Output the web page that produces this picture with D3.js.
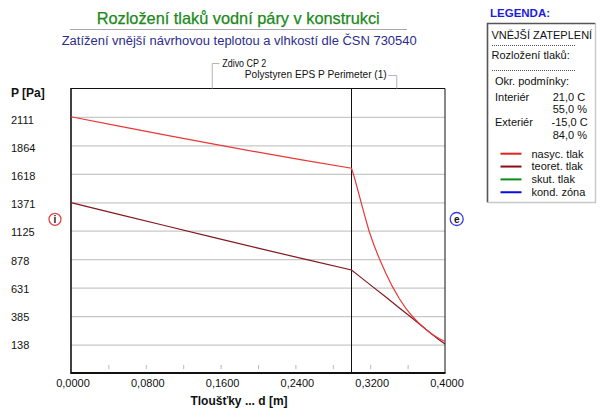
<!DOCTYPE html>
<html><head><meta charset="utf-8">
<script src="https://cdn.jsdelivr.net/npm/d3@7"></script>
<style>
html,body{margin:0;padding:0;background:#fff;}
svg{display:block;font-family:"Liberation Sans",Arial,sans-serif;}
</style></head>
<body>
<svg id="c" width="604" height="418"></svg>
<script>
// ---------- data ----------
const titleText = "Rozložení tlaků vodní páry v konstrukci";
const subtitleText = "Zatížení vnější návrhovou teplotou a vlhkostí dle ČSN 730540";
const layerNames = ["Zdivo CP 2", "Polystyren EPS P Perimeter (1)"];
const layerThick = [0.30, 0.10];
const xTicks = [0, 0.08, 0.16, 0.24, 0.32, 0.40];
const xMinor = [0.04, 0.08, 0.12, 0.16, 0.20, 0.24, 0.28, 0.32, 0.36];
const yRange = [-108.6, 2357.6];
const yTicks = [138, 385, 631, 878, 1125, 1371, 1618, 1864, 2111];
// saturated pressure (nasyc. tlak)
const dSat = [0, 0.05, 0.10, 0.15, 0.20, 0.25, 0.30, 0.303, 0.3083, 0.3136, 0.319, 0.3243, 0.3296, 0.3367, 0.3438, 0.3509, 0.3581, 0.3651, 0.3723, 0.3794, 0.3865, 0.3936, 0.40];
const pSat = [2113, 2033, 1956, 1880, 1806, 1735, 1666, 1590, 1430, 1270, 1116, 995, 886, 756, 640, 539, 452, 383, 322, 272, 225, 190, 165];
// theoretical partial pressure (teoret. tlak)
const dTeor = [0, 0.05, 0.10, 0.15, 0.20, 0.25, 0.30, 0.3083, 0.3225, 0.3367, 0.3509, 0.3651, 0.3794, 0.3936, 0.40];
const pTeor = [1368, 1269, 1170, 1072, 974, 878, 784, 731, 640, 550, 457, 366, 270, 180, 142];
const legendNames = ["nasyc. tlak", "teoret. tlak", "skut. tlak", "kond. zóna"];
const legendColors = ["#e32222", "#8c0c14", "#0c8a1a", "#0a0ae6"];
const condLabels = ["Interiér", "Exteriér"];
const condTemp = ["21,0 C", "-15,0 C"];
const condHum = ["55,0 %", "84,0 %"];

// ---------- setup ----------
const svg = d3.select("#c");
const L = 71, R = 445, T = 88.5, B = 373;
const x = d3.scaleLinear().domain([0, 0.4]).range([L, R]);
const y = d3.scaleLinear().domain(yRange).range([B, T]);
const FONT = "\"Liberation Sans\",Arial,sans-serif";

function fit(sel, w) { sel.attr("textLength", w).attr("lengthAdjust", "spacingAndGlyphs"); return sel; }

// title
fit(svg.append("text").attr("x", 96.7).attr("y", 24).attr("font-size", 16.5)
  .attr("fill", "#1b8a1b").attr("stroke", "#1b8a1b").attr("stroke-width", 0.25).text(titleText), 283);
svg.append("line").attr("x1", 70).attr("x2", 407).attr("y1", 29.5).attr("y2", 29.5)
  .attr("stroke", "#a8a8a8").attr("stroke-width", 1);
fit(svg.append("text").attr("x", 61.7).attr("y", 45).attr("font-size", 12.5)
  .attr("fill", "#2c2c8e").text(subtitleText), 355);

// grid (y axis)
const gy = svg.append("g").attr("transform", `translate(${L},0)`)
  .call(d3.axisLeft(y).tickValues(yTicks).tickSize(-(R - L)).tickFormat(""));
gy.select(".domain").remove();
gy.selectAll(".tick line").attr("stroke", "#c8c8c8").attr("stroke-width", 1.2);

// y labels
svg.append("g").selectAll("text").data(yTicks).join("text")
  .attr("x", 11)
  .attr("y", d => y(d) + 4.5 + 2.5 * (d - 138) / (2111 - 138))
  .attr("font-size", 11).attr("fill", "#111")
  .text(d => d);
svg.append("text").attr("x", 11).attr("y", 96.5).attr("font-size", 12)
  .attr("font-weight", "bold").attr("fill", "#111").text("P [Pa]");

// minor ticks
const gm = svg.append("g").attr("transform", `translate(0,${B - 8})`)
  .call(d3.axisBottom(x).tickValues(xMinor).tickSize(4).tickFormat(""));
gm.select(".domain").remove();
gm.selectAll(".tick line").attr("stroke", "#b8b8b8");

// x axis labels
const gx = svg.append("g").attr("transform", `translate(0,${B})`)
  .call(d3.axisBottom(x).tickValues(xTicks).tickSize(0)
    .tickFormat(d => d.toFixed(4).replace(".", ",")));
gx.select(".domain").remove();
gx.selectAll(".tick text").attr("y", 14).attr("dy", 0).attr("dx", 1.5)
  .attr("font-size", 11).attr("font-family", FONT).attr("fill", "#111");
svg.append("text").attr("x", 239).attr("y", 405).attr("text-anchor", "middle")
  .attr("font-size", 12).attr("font-weight", "bold").attr("fill", "#111")
  .text("Tloušťky ... d [m]");

// frame
svg.append("line").attr("x1", L).attr("x2", R).attr("y1", T).attr("y2", T).attr("stroke", "#111");
svg.append("line").attr("x1", R).attr("x2", R).attr("y1", T).attr("y2", B).attr("stroke", "#111");
svg.append("line").attr("x1", L).attr("x2", L).attr("y1", T - 0.5).attr("y2", B + 1).attr("stroke", "#111").attr("stroke-width", 1.6);
svg.append("line").attr("x1", L).attr("x2", R + 0.5).attr("y1", B).attr("y2", B).attr("stroke", "#111").attr("stroke-width", 1.8);

// layer boundaries and labels
let acc = 0;
const bounds = layerThick.map(t => { const s = acc; acc += t; return [s, acc]; });
bounds.slice(0, -1).forEach(b => {
  svg.append("line").attr("x1", x(b[1])).attr("x2", x(b[1])).attr("y1", T).attr("y2", B)
    .attr("stroke", "#111");
});
{
  const cx = x((bounds[0][0] + bounds[0][1]) / 2) + 1;
  svg.append("path").attr("d", `M${cx},${T} V63.5 H${cx + 7}`).attr("fill", "none").attr("stroke", "#b4b4b4");
  fit(svg.append("text").attr("x", cx + 10).attr("y", 67.3).attr("font-size", 11).attr("fill", "#111").text(layerNames[0]), 44);
  const cx2 = x((bounds[1][0] + bounds[1][1]) / 2) - 1.5;
  svg.append("path").attr("d", `M${cx2 - 8.5},75.5 H${cx2} V${T}`).attr("fill", "none").attr("stroke", "#b4b4b4");
  fit(svg.append("text").attr("x", cx2 - 10).attr("y", 78.3).attr("text-anchor", "end").attr("font-size", 11).attr("fill", "#111").text(layerNames[1]), 142);
}

// curves
const line = d3.line().x(d => x(d[0])).y(d => y(d[1]));
svg.append("path").datum(dTeor.map((d, i) => [d, pTeor[i]])).attr("d", line)
  .attr("fill", "none").attr("stroke", "#841820").attr("stroke-width", 1.2);
svg.append("path").datum(dSat.map((d, i) => [d, pSat[i]])).attr("d", line)
  .attr("fill", "none").attr("stroke", "#e83838").attr("stroke-width", 1.2);

// i / e markers
svg.append("circle").attr("cx", 55).attr("cy", 219.3).attr("r", 6).attr("fill", "#fff")
  .attr("stroke", "#e04848").attr("stroke-width", 1.3);
svg.append("text").attr("x", 55).attr("y", 223).attr("text-anchor", "middle")
  .attr("font-size", 10).attr("font-weight", "bold").attr("fill", "#111").text("i");
svg.append("circle").attr("cx", 456.7).attr("cy", 219).attr("r", 6.5).attr("fill", "#fff")
  .attr("stroke", "#3a3ae0").attr("stroke-width", 1.3);
svg.append("text").attr("x", 456.7).attr("y", 222.6).attr("text-anchor", "middle")
  .attr("font-size", 10).attr("font-weight", "bold").attr("fill", "#111").text("e");

// legend
svg.append("text").attr("x", 490).attr("y", 16.5).attr("font-size", 11.5).attr("font-weight", "bold")
  .attr("fill", "#1c1ce0").text("LEGENDA:");
const bx0 = 487.5, by0 = 23.5, bx1 = 595.5, by1 = 202.5;
svg.append("path").attr("d", `M${bx0},${by1} V${by0} H${bx1}`).attr("fill", "none").attr("stroke", "#555").attr("stroke-width", 1.6);
svg.append("path").attr("d", `M${bx1},${by0} V${by1} H${bx0}`).attr("fill", "none").attr("stroke", "#c8c8c8").attr("stroke-width", 1.4);
const lg = svg.append("g").attr("font-size", 11).attr("fill", "#111");
lg.append("text").attr("x", 491.5).attr("y", 38.5).text("VNĚJŠÍ ZATEPLENÍ");
lg.append("line").attr("x1", 492).attr("x2", 575).attr("y1", 45.5).attr("y2", 45.5)
  .attr("stroke", "#555").attr("stroke-dasharray", "1,1");
lg.append("text").attr("x", 491.5).attr("y", 59).text("Rozložení tlaků:");
lg.append("line").attr("x1", 492).attr("x2", 575).attr("y1", 70.5).attr("y2", 70.5)
  .attr("stroke", "#555").attr("stroke-dasharray", "1,1");
lg.append("text").attr("x", 495).attr("y", 85).text("Okr. podmínky:");
condLabels.forEach((c, i) => {
  const by = 100.5 + i * 25.5;
  lg.append("text").attr("x", 495).attr("y", by).text(c);
  lg.append("text").attr("x", i === 0 ? 552.7 : 551.5).attr("y", by).text(condTemp[i]);
  lg.append("text").attr("x", 552.7).attr("y", by + 12.5).text(condHum[i]);
});
legendNames.forEach((n, i) => {
  const ly = 153.7 + i * 12.85;
  lg.append("line").attr("x1", 500.5).attr("x2", 521.5).attr("y1", ly).attr("y2", ly)
    .attr("stroke", legendColors[i]).attr("stroke-width", 2);
  lg.append("text").attr("x", 531.5).attr("y", ly + 3.8).text(n);
});
</script>
</body></html>
